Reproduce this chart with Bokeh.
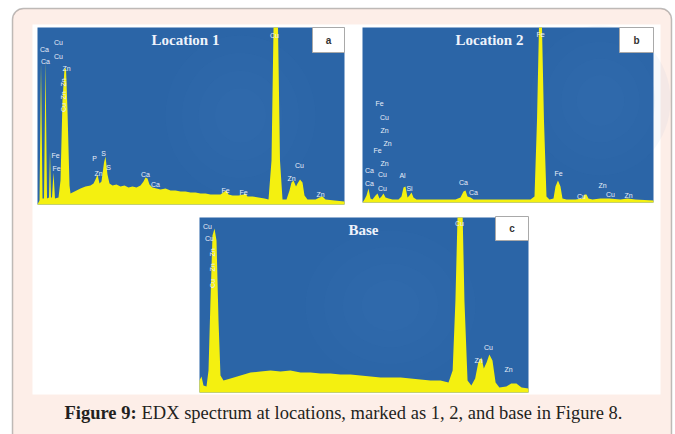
from bokeh.plotting import figure
from bokeh.models import Range1d, BoxAnnotation
from bokeh.embed import file_html
from bokeh.resources import INLINE
from bokeh.core.properties import value
import math

# ---------------- data (energy in keV, intensity in counts) ----------------
# Panel a : Location 1
energy_a = [0.10, 0.167, 0.217, 0.267, 0.317, 0.367, 0.417, 0.483, 0.517, 0.55, 0.583, 0.633, 0.683,
            0.80, 0.867, 0.933, 1.0, 1.05, 1.10, 1.167, 1.20, 1.267, 1.40, 1.533, 1.70, 1.867, 1.967,
            2.033, 2.10, 2.167, 2.233, 2.317, 2.367, 2.433, 2.50, 2.60, 2.733, 2.867, 3.0, 3.133, 3.267,
            3.40, 3.533, 3.633, 3.70, 3.767, 3.833, 3.933, 4.067, 4.20, 4.367, 4.533, 4.70, 4.867, 5.033,
            5.20, 5.367, 5.533, 5.70, 5.867, 6.033, 6.20, 6.333, 6.40, 6.467, 6.60, 6.80, 6.967, 7.033,
            7.10, 7.267, 7.467, 7.667, 7.80, 7.90, 7.967, 8.117, 8.183, 8.267, 8.40, 8.50, 8.567, 8.633,
            8.717, 8.767, 8.85, 8.933, 9.0, 9.10, 9.367, 9.50, 9.60, 9.70, 10.0, 10.333]
counts_a = [0, 40, 1420, 60, 60, 1440, 60, 70, 540, 70, 70, 320, 60,
            70, 240, 1040, 1360, 1360, 940, 190, 110, 120, 140, 160, 180, 190, 210,
            250, 300, 210, 230, 420, 480, 300, 210, 190, 200, 180, 190, 170, 180,
            170, 190, 230, 270, 260, 200, 170, 160, 150, 160, 140, 140, 130, 130,
            120, 120, 110, 110, 100, 100, 100, 130, 140, 100, 90, 90, 100, 110,
            80, 80, 70, 60, 50, 440, 1770, 1770, 440, 50, 50, 140, 220, 240,
            180, 210, 250, 220, 90, 50, 50, 70, 80, 50, 40, 30]

# Panel b : Location 2
energy_b = [-0.07, 0.0, 0.073, 0.145, 0.218, 0.29, 0.40, 0.473, 0.545, 0.618, 0.69, 0.764, 0.873,
            1.018, 1.236, 1.345, 1.418, 1.49, 1.564, 1.636, 1.709, 1.782, 1.89, 2.218, 2.764, 3.309,
            3.49, 3.6, 3.673, 3.745, 3.855, 3.964, 4.4, 4.945, 5.49, 6.036, 6.182, 6.273, 6.345,
            6.455, 6.527, 6.618, 6.727, 6.873, 6.945, 7.036, 7.127, 7.2, 7.345, 7.673, 7.927, 8.0,
            8.073, 8.145, 8.29, 8.582, 8.909, 9.309, 9.564, 9.855, 10.51]
counts_b = [0, 30, 70, 140, 40, 30, 70, 90, 40, 60, 90, 50, 40,
            30, 30, 60, 150, 160, 50, 70, 100, 50, 30, 30, 30, 30,
            50, 110, 120, 60, 50, 30, 30, 30, 30, 30, 60, 820, 1750,
            1750, 820, 60, 30, 40, 160, 220, 160, 40, 30, 30, 40, 80,
            80, 40, 30, 40, 40, 30, 40, 30, 20]

# Panel c : Base
energy_c = [0.50, 0.558, 0.615, 0.702, 0.76, 0.817, 0.875, 0.933, 0.991, 1.049, 1.106, 1.193, 1.395,
            1.684, 1.973, 2.26, 2.55, 2.84, 3.125, 3.417, 3.705, 3.994, 4.283, 4.57, 4.86, 5.149,
            5.44, 5.727, 6.015, 6.31, 6.593, 6.88, 7.17, 7.46, 7.69, 7.81, 7.89, 7.95, 8.10, 8.15,
            8.24, 8.35, 8.46, 8.55, 8.64, 8.71, 8.79, 8.87, 8.96, 9.05, 9.16, 9.36, 9.50, 9.65,
            9.80, 10.0]
counts_c = [120, 160, 70, 60, 220, 920, 1570, 1640, 1520, 720, 170, 120, 140,
            170, 200, 210, 220, 210, 220, 200, 200, 190, 190, 180, 180, 170,
            160, 150, 150, 150, 140, 130, 120, 120, 100, 220, 920, 1750, 1750, 920,
            120, 70, 140, 300, 350, 240, 300, 380, 320, 100, 50, 60, 90, 90,
            50, 40]

# peak labels: (text, x, y, rotated)
labels_a = [("Ca", 44, 49, 0), ("Ca", 45, 61, 0), ("Cu", 58, 42, 0), ("Cu", 58, 56, 0), ("Zn", 66, 68, 0),
            ("Zn", 63, 82, 1), ("Zn", 63, 95, 1), ("Cu", 63, 107, 1),
            ("Fe", 55, 155, 0), ("Fe", 56, 168, 0), ("P", 94, 158, 0), ("S", 103, 153, 0),
            ("Zn", 98, 173, 0), ("S", 108, 167, 0),
            ("Ca", 145, 174, 0), ("Ca", 155, 184, 0), ("Fe", 225, 190, 0), ("Fe", 243, 192, 0),
            ("Cu", 274, 35, 0), ("Cu", 299, 165, 0), ("Zn", 291, 178, 0), ("Zn", 320, 194, 0)]
labels_b = [("Fe", 540, 34, 0), ("Fe", 379, 103, 0), ("Cu", 384, 117, 0), ("Zn", 384, 130, 0),
            ("Zn", 387, 143, 0), ("Fe", 377, 150, 0), ("Zn", 384, 163, 0), ("Ca", 369, 170, 0),
            ("Cu", 382, 174, 0), ("Al", 402, 175, 0), ("Ca", 369, 183, 0), ("Cu", 382, 188, 0),
            ("Si", 409, 188, 0), ("Ca", 463, 182, 0), ("Ca", 473, 192, 0), ("Fe", 558, 173, 0),
            ("Cu", 581, 196, 0), ("Zn", 602, 185, 0), ("Cu", 610, 194, 0), ("Zn", 628, 195, 0)]
labels_c = [("Cu", 207, 226, 0), ("Cu", 209, 238, 0), ("Zn", 212, 252, 1), ("Zn", 212, 267, 1),
            ("Cu", 212, 283, 1), ("Cu", 459, 223, 0), ("Cu", 488, 347, 0), ("Zn", 478, 360, 0),
            ("Zn", 508, 369, 0)]

panel_titles = ["Location 1", "Location 2", "Base"]
panel_letters = ["a", "b", "c"]
caption_bold = "Figure 9:"
caption_rest = "EDX spectrum at locations, marked as 1, 2, and base in Figure 8."

# ---------------- styling ----------------
PEACH = "#fdeee8"
BLUE = "#2b65a7"
BLUE_LIGHT = "#5088c2"
YELLOW = "#f4f010"
LABEL = "#e9eef8"

p = figure(width=675, height=434, x_range=Range1d(0, 675), y_range=Range1d(434, 0),
           output_backend="svg", toolbar_location=None, min_border=0,
           x_axis_location=None, y_axis_location=None)
p.grid.visible = False
p.outline_line_color = None
p.background_fill_color = "white"
p.border_fill_color = "white"

p.add_layout(BoxAnnotation(left=12, right=671, top=8, bottom=460, fill_color=PEACH, fill_alpha=1,
                           line_color="#2a2a2a", line_width=1.5, border_radius=11, level="underlay"))

# white figure area
p.quad(left=[32], right=[660], top=[24], bottom=[394], fill_color="white", line_color=None)

panels = [
    dict(box=(37, 344, 27, 204), src_x=(0.1, 10.333), src_y=(0, 1770), e=energy_a, c=counts_a,
         labels=labels_a, title_xy=(185, 39), letter_box=(312, 344, 27, 52), blob=(240, 115, 150, 160)),
    dict(box=(362, 653, 27, 202), src_x=(-0.073, 10.51), src_y=(0, 1750), e=energy_b, c=counts_b,
         labels=labels_b, title_xy=(489, 39), letter_box=(619, 653, 27, 52), blob=(600, 100, 140, 150)),
    dict(box=(199, 528, 217, 392), src_x=(0.5, 10.0), src_y=(0, 1750), e=energy_c, c=counts_c,
         labels=labels_c, title_xy=(363, 229), letter_box=(495, 528, 216, 240), blob=(390, 305, 170, 150)),
]

for i, pn in enumerate(panels):
    l, r, t, b = pn["box"]
    p.quad(left=[l], right=[r], top=[t], bottom=[b], fill_color=BLUE, line_color=None)
    bx, by, bw, bh = pn["blob"]
    for k in range(4):
        f = 1.0 - 0.22 * k
        p.ellipse(x=[bx], y=[by], width=bw * f, height=bh * f, fill_color=BLUE_LIGHT,
                  fill_alpha=0.05, line_color=None)
    sub = p.subplot(x_source=Range1d(*pn["src_x"]), y_source=Range1d(*pn["src_y"]),
                    x_target=Range1d(l, r), y_target=Range1d(b, t))
    sub.varea(x=pn["e"], y1=[0] * len(pn["e"]), y2=pn["c"], fill_color=YELLOW)
    labs = pn["labels"]
    flat = [q for q in labs if q[3] == 0]
    rot = [q for q in labs if q[3] == 1]
    p.text(x=[q[1] for q in flat], y=[q[2] for q in flat], text=[q[0] for q in flat],
           text_color=LABEL, text_font=value("Liberation Sans"), text_font_size="7px",
           text_align="center", text_baseline="middle")
    if rot:
        p.text(x=[q[1] for q in rot], y=[q[2] for q in rot], text=[q[0] for q in rot],
               angle=math.pi / 2, text_color=LABEL, text_font=value("Liberation Sans"),
               text_font_size="7px", text_align="center", text_baseline="middle")
    tx, ty = pn["title_xy"]
    p.text(x=[tx], y=[ty], text=[panel_titles[i]], text_color="#eef3fb",
           text_font=value("Liberation Serif"), text_font_style="bold", text_font_size="15px",
           text_align="center", text_baseline="middle")
    ll, lr, lt, lb = pn["letter_box"]
    p.quad(left=[ll], right=[lr], top=[lt], bottom=[lb], fill_color="white", line_color="#a9a9a9",
           line_width=1)
    p.text(x=[(ll + lr) / 2], y=[(lt + lb) / 2], text=[panel_letters[i]], text_color="#333333",
           text_font=value("Liberation Sans"), text_font_style="bold", text_font_size="10px",
           text_align="center", text_baseline="middle")

# caption
p.text(x=[64], y=[412], text=[caption_bold], text_color="#231f20", text_font=value("Liberation Serif"),
       text_font_style="bold", text_font_size="18.5px", text_align="left", text_baseline="middle")
p.text(x=[141], y=[412], text=[caption_rest], text_color="#231f20", text_font=value("Liberation Serif"),
       text_font_size="18.5px", text_align="left", text_baseline="middle")

open("out.html", "w").write(file_html(p, INLINE))
